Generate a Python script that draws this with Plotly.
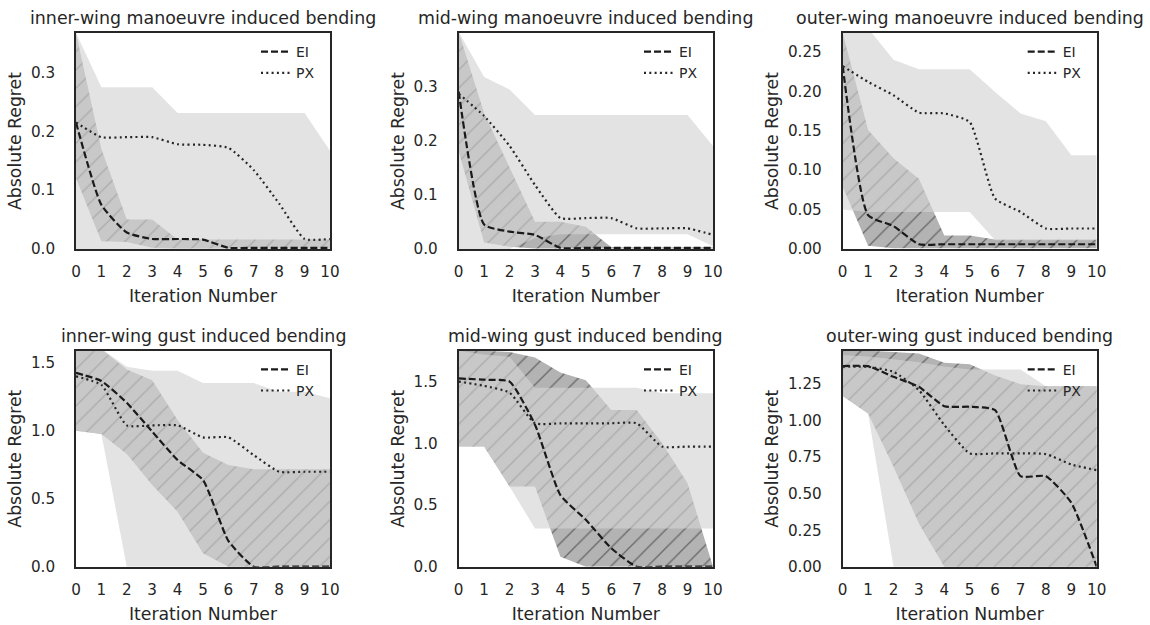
import plotly.graph_objects as go

# ---------------- data ----------------
iterations = [0, 1, 2, 3, 4, 5, 6, 7, 8, 9, 10]

titles = [
    "inner-wing manoeuvre induced bending",
    "mid-wing manoeuvre induced bending",
    "outer-wing manoeuvre induced bending",
    "inner-wing gust induced bending",
    "mid-wing gust induced bending",
    "outer-wing gust induced bending",
]

# inner-wing manoeuvre
ei_mean_1 = [0.215, 0.075, 0.028, 0.017, 0.017, 0.016, 0.002, 0.002, 0.002, 0.002, 0.002]
ei_lo_1 = [0.12, 0.013, 0.012, 0.002, 0.001, 0.001, 0.001, 0.001, 0.001, 0.001, 0.001]
ei_hi_1 = [0.367, 0.17, 0.05, 0.05, 0.016, 0.016, 0.016, 0.016, 0.016, 0.016, 0.016]
px_mean_1 = [0.215, 0.19, 0.19, 0.19, 0.178, 0.177, 0.172, 0.134, 0.077, 0.017, 0.017]
px_lo_1 = [0.0, 0.0, 0.0, 0.0, 0.0, 0.0, 0.0, 0.0, 0.0, 0.0, 0.0]
px_hi_1 = [0.367, 0.275, 0.275, 0.275, 0.231, 0.231, 0.231, 0.231, 0.231, 0.231, 0.167]

# mid-wing manoeuvre
ei_mean_2 = [0.29, 0.045, 0.032, 0.026, 0.002, 0.002, 0.002, 0.002, 0.002, 0.002, 0.002]
ei_lo_2 = [0.18, 0.012, 0.004, 0.001, 0.001, 0.001, 0.001, 0.001, 0.001, 0.001, 0.001]
ei_hi_2 = [0.40, 0.25, 0.15, 0.05, 0.05, 0.041, 0.003, 0.003, 0.003, 0.003, 0.003]
px_mean_2 = [0.286, 0.245, 0.19, 0.118, 0.057, 0.057, 0.057, 0.038, 0.038, 0.038, 0.026]
px_lo_2 = [0.0, 0.0, 0.0, 0.02, 0.027, 0.027, 0.027, 0.027, 0.027, 0.027, 0.005]
px_hi_2 = [0.40, 0.317, 0.294, 0.247, 0.247, 0.247, 0.247, 0.247, 0.247, 0.247, 0.19]

# outer-wing manoeuvre
ei_mean_3 = [0.232, 0.043, 0.029, 0.006, 0.006, 0.006, 0.006, 0.006, 0.006, 0.006, 0.006]
ei_lo_3 = [0.079, 0.004, 0.001, 0.001, 0.001, 0.001, 0.001, 0.001, 0.001, 0.001, 0.001]
ei_hi_3 = [0.274, 0.151, 0.115, 0.089, 0.017, 0.017, 0.012, 0.012, 0.012, 0.012, 0.012]
px_mean_3 = [0.232, 0.212, 0.195, 0.173, 0.172, 0.161, 0.064, 0.047, 0.026, 0.026, 0.026]
px_lo_3 = [0.05, 0.047, 0.047, 0.047, 0.047, 0.047, 0.011, 0.011, 0.011, 0.011, 0.011]
px_hi_3 = [0.29, 0.28, 0.24, 0.228, 0.228, 0.228, 0.199, 0.172, 0.162, 0.119, 0.119]

# inner-wing gust
ei_mean_4 = [1.425, 1.365, 1.205, 0.993, 0.784, 0.637, 0.19, 0.0, 0.0, 0.0, 0.0]
ei_lo_4 = [1.0, 0.975, 0.828, 0.60, 0.404, 0.098, 0.0, 0.0, 0.0, 0.0, 0.0]
ei_hi_4 = [1.6, 1.6, 1.45, 1.37, 1.078, 0.838, 0.748, 0.716, 0.716, 0.716, 0.716]
px_mean_4 = [1.40, 1.336, 1.039, 1.039, 1.039, 0.951, 0.951, 0.82, 0.698, 0.698, 0.698]
px_lo_4 = [1.0, 0.975, 0.0, 0.0, 0.0, 0.0, 0.0, 0.0, 0.0, 0.0, 0.0]
px_hi_4 = [1.6, 1.6, 1.47, 1.44, 1.44, 1.35, 1.35, 1.35, 1.287, 1.287, 1.238]

# mid-wing gust
ei_mean_5 = [1.525, 1.515, 1.50, 1.15, 0.58, 0.38, 0.15, 0.0, 0.0, 0.0, 0.0]
ei_lo_5 = [0.973, 0.973, 0.649, 0.649, 0.081, 0.0, 0.0, 0.0, 0.0, 0.0, 0.0]
ei_hi_5 = [1.75, 1.75, 1.74, 1.695, 1.573, 1.51, 1.27, 1.27, 1.0, 0.676, 0.0]
px_mean_5 = [1.50, 1.465, 1.41, 1.162, 1.162, 1.162, 1.162, 1.162, 0.973, 0.973, 0.973]
px_lo_5 = [0.973, 0.973, 0.649, 0.31, 0.31, 0.31, 0.31, 0.31, 0.31, 0.31, 0.31]
px_hi_5 = [1.75, 1.72, 1.70, 1.45, 1.45, 1.45, 1.45, 1.45, 1.405, 1.405, 1.405]

# outer-wing gust
ei_mean_6 = [1.373, 1.373, 1.30, 1.232, 1.099, 1.095, 1.072, 0.62, 0.62, 0.438, 0.0]
ei_lo_6 = [1.168, 1.049, 0.684, 0.296, 0.0, 0.0, 0.0, 0.0, 0.0, 0.0, 0.0]
ei_hi_6 = [1.479, 1.479, 1.47, 1.46, 1.396, 1.387, 1.31, 1.25, 1.236, 1.236, 1.236]
px_mean_6 = [1.369, 1.369, 1.334, 1.209, 0.97, 0.776, 0.776, 0.776, 0.771, 0.70, 0.661]
px_lo_6 = [1.168, 1.049, 0.0, 0.0, 0.0, 0.0, 0.0, 0.0, 0.0, 0.0, 0.0]
px_hi_6 = [1.45, 1.44, 1.42, 1.40, 1.37, 1.35, 1.35, 1.35, 1.236, 1.236, 1.236]

y_tops = [0.367, 0.398, 0.274, 1.588, 1.75, 1.479]
y_ticks_manoeuvre = [0.0, 0.1, 0.2, 0.3]
y_ticks_outer_manoeuvre = [0.0, 0.05, 0.10, 0.15, 0.20, 0.25]
y_ticks_gust = [0.0, 0.5, 1.0, 1.5]
y_ticks_outer_gust = [0.0, 0.25, 0.5, 0.75, 1.0, 1.25]
y_ticks = [y_ticks_manoeuvre, y_ticks_manoeuvre, y_ticks_outer_manoeuvre,
           y_ticks_gust, y_ticks_gust, y_ticks_outer_gust]
y_formats = [".1f", ".1f", ".2f", ".1f", ".1f", ".2f"]

panels = [
    (ei_mean_1, ei_lo_1, ei_hi_1, px_mean_1, px_lo_1, px_hi_1),
    (ei_mean_2, ei_lo_2, ei_hi_2, px_mean_2, px_lo_2, px_hi_2),
    (ei_mean_3, ei_lo_3, ei_hi_3, px_mean_3, px_lo_3, px_hi_3),
    (ei_mean_4, ei_lo_4, ei_hi_4, px_mean_4, px_lo_4, px_hi_4),
    (ei_mean_5, ei_lo_5, ei_hi_5, px_mean_5, px_lo_5, px_hi_5),
    (ei_mean_6, ei_lo_6, ei_hi_6, px_mean_6, px_lo_6, px_hi_6),
]

# ---------------- layout geometry ----------------
W, H = 1150, 625
col_px = [(76, 330), (458.7, 713), (842.7, 1096.7)]
row_px = [(33, 249), (350.7, 566.7)]

FONT = "DejaVu Sans"
TXT = "#262626"
EI_BAND = "rgba(128,128,128,0.6)"
PX_BAND = "rgba(211,211,211,0.64)"

fig = go.Figure()
layout = dict(
    width=W, height=H,
    margin=dict(l=0, r=0, t=0, b=0),
    paper_bgcolor="white", plot_bgcolor="white",
    font=dict(family=FONT, color=TXT),
    annotations=[],
)

for i, (ei_m, ei_l, ei_h, px_m, px_l, px_h) in enumerate(panels):
    r, c = divmod(i, 3)
    n = i + 1
    xa = "x" if n == 1 else f"x{n}"
    ya = "y" if n == 1 else f"y{n}"
    lg = "legend" if n == 1 else f"legend{n}"
    x0, x1 = col_px[c]
    y0, y1 = row_px[r]
    xdom = [x0 / W, x1 / W]
    ydom = [1 - y1 / H, 1 - y0 / H]

    # EI band (hatched)
    fig.add_trace(go.Scatter(x=iterations, y=ei_l, mode="lines", line=dict(width=0),
                             showlegend=False, hoverinfo="skip", xaxis=xa, yaxis=ya))
    fig.add_trace(go.Scatter(x=iterations, y=ei_h, mode="lines", line=dict(width=0),
                             fill="tonexty", fillcolor=EI_BAND,
                             fillpattern=dict(shape="/", size=13, solidity=0.1,
                                              bgcolor=EI_BAND, fgcolor="rgb(50,50,50)",
                                              fgopacity=0.6, fillmode="replace"),
                             showlegend=False, hoverinfo="skip", xaxis=xa, yaxis=ya))
    # PX band
    fig.add_trace(go.Scatter(x=iterations, y=px_l, mode="lines", line=dict(width=0),
                             showlegend=False, hoverinfo="skip", xaxis=xa, yaxis=ya))
    fig.add_trace(go.Scatter(x=iterations, y=px_h, mode="lines", line=dict(width=0),
                             fill="tonexty", fillcolor=PX_BAND,
                             showlegend=False, hoverinfo="skip", xaxis=xa, yaxis=ya))
    # mean lines
    fig.add_trace(go.Scatter(x=iterations, y=ei_m, mode="lines", name="EI",
                             line=dict(color="#1a1a1a", width=2.2, dash="7px,3px",
                                       shape="spline", smoothing=0.5),
                             legend=lg, xaxis=xa, yaxis=ya))
    fig.add_trace(go.Scatter(x=iterations, y=px_m, mode="lines", name="PX",
                             line=dict(color="#262626", width=2.2, dash="2px,3.3px",
                                       shape="spline", smoothing=0.5),
                             legend=lg, xaxis=xa, yaxis=ya))

    axis_common = dict(showline=True, mirror=True, linecolor=TXT, linewidth=1.8,
                       showgrid=False, zeroline=False, ticks="outside", ticklen=0,
                       automargin=False,
                       tickfont=dict(size=15.2, color=TXT, family=FONT))
    layout["xaxis" if n == 1 else f"xaxis{n}"] = dict(
        axis_common, domain=xdom, anchor=ya, range=[0, 10], dtick=1, tick0=0,
        ticklabelstandoff=8,
        title=dict(text="Iteration Number", font=dict(size=17.3, color=TXT, family=FONT), standoff=10),
    )
    layout["yaxis" if n == 1 else f"yaxis{n}"] = dict(
        axis_common, domain=ydom, anchor=xa, range=[0, y_tops[i]],
        tickvals=y_ticks[i], tickformat=y_formats[i], ticklabelstandoff=16,
        title=dict(text="Absolute Regret", font=dict(size=17.3, color=TXT, family=FONT), standoff=5),
    )
    layout[lg] = dict(
        x=(x1 - 10) / W, xanchor="right", y=1 - (y0 + 3) / H, yanchor="top",
        bgcolor="rgba(0,0,0,0)", borderwidth=0, itemwidth=30, traceorder="normal",
        font=dict(size=14, color=TXT, family=FONT), tracegroupgap=0,
    )
    layout["annotations"].append(dict(
        text=titles[i], x=(x0 + x1) / 2 / W, y=1 - (y0 - 15) / H,
        xref="paper", yref="paper", xanchor="center", yanchor="middle",
        showarrow=False, font=dict(size=17.4, color=TXT, family=FONT),
    ))

fig.update_layout(**layout)
fig.write_html("out.html")
